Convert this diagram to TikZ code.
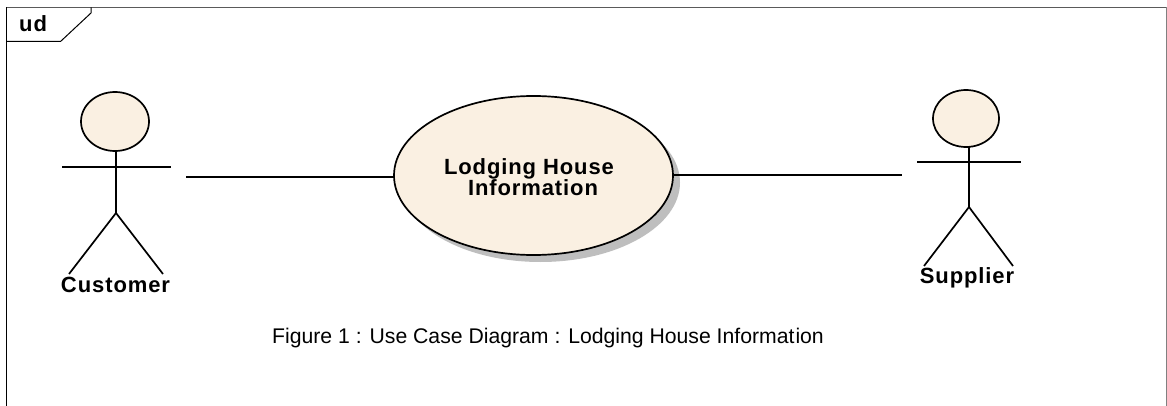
\documentclass[tikz,border=0pt]{standalone}
\usepackage{fontspec}
\setmainfont{Liberation Sans}
\newfontfamily\lblfont[LetterSpace=4]{Liberation Sans Bold}
\usetikzlibrary{shapes.geometric}
\definecolor{fillc}{RGB}{250,240,226}
\definecolor{shadowc}{RGB}{190,190,190}
\definecolor{framec}{RGB}{90,90,90}
\tikzset{
 ln/.style={line width=1.7pt,black},
 lbl/.style={font=\lblfont\fontsize{22}{25}\selectfont,inner sep=0pt},
 capt/.style={font=\fontsize{21.2}{24}\selectfont,inner sep=0pt},
 oval/.style={draw,ln,fill=fillc,ellipse,inner sep=0pt,outer sep=0pt},
}
\begin{document}
\begin{tikzpicture}[x=1pt,y=-1pt]
\useasboundingbox (0,0) rectangle (1167,406);
\fill[white] (0,0) rectangle (1167,406);
% frame
\draw[framec,line width=1.6pt] (6.5,7.5) -- (1166,7.5);
\draw[black,line width=1.2pt] (6.5,406) -- (6.5,7.5);
\draw[gray,line width=1pt] (1166,7.5) -- (1166,406);
\coordinate (t1) at (6.5,41.5);
\coordinate (t2) at (60.5,41.5);
\coordinate (t3) at (91,13);
\coordinate (t4) at (91,7.5);
\draw[line width=1pt] (t1) -- (t2) -- (t3) -- (t4);
\node[lbl,anchor=base west] (ud) at (19,32) {ud};
% use case
\fill[shadowc] (540.5,182.5) ellipse [x radius=139.5,y radius=79.5];
\node[oval,minimum width=279pt,minimum height=159pt] (uc) at (533.5,175.5) {};
\node[lbl,anchor=base] (uc1) at (529,175) {Lodging House};
\node[lbl,anchor=base] (uc2) at (533,196) {Informat\kern1pt ion};
% customer
\node[oval,minimum width=68pt,minimum height=59pt] (h1) at (115,121.5) {};
\coordinate (n1) at (116,151);
\coordinate (hip1) at (116,213);
\coordinate (al1) at (62,167);
\coordinate (ar1) at (171,167);
\coordinate (fl1) at (69,274);
\coordinate (fr1) at (163,274);
\draw[ln] (n1) -- (hip1);
\draw[ln] (al1) -- (ar1);
\draw[ln] (fl1) -- (hip1) -- (fr1);
\node[lbl,anchor=base] (cust) at (115.5,292) {C\kern1pt ust\kern1pt omer};
% supplier
\node[oval,minimum width=66pt,minimum height=57pt] (h2) at (966,118.5) {};
\coordinate (n2) at (969,147);
\coordinate (hip2) at (969,207);
\coordinate (al2) at (917,162);
\coordinate (ar2) at (1021,162);
\coordinate (fl2) at (924,266);
\coordinate (fr2) at (1013,266);
\draw[ln] (n2) -- (hip2);
\draw[ln] (al2) -- (ar2);
\draw[ln] (fl2) -- (hip2) -- (fr2);
\node[lbl,anchor=base] (supp) at (967,283) {Supplier};
% connectors
\coordinate (c1) at (186,177);
\coordinate (c2) at (902,175);
\draw[ln] (c1) -- (c1 -| uc.west);
\draw[ln] (uc.east |- c2) -- (c2);
% caption
\node[capt,anchor=base west] (cap) at (272,343) {Figure 1 : Use Case Diagram : Lodging House Informat\kern1pt ion};
\end{tikzpicture}
\end{document}
